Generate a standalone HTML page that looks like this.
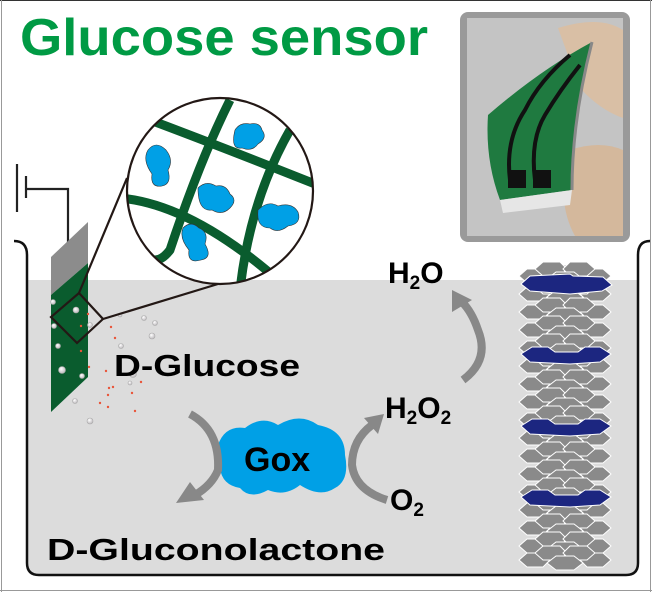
<!DOCTYPE html>
<html><head><meta charset="utf-8"><style>
html,body{margin:0;padding:0;background:#fff}
svg{display:block}
text{font-family:"Liberation Sans","DejaVu Sans",sans-serif;font-weight:bold}
</style></head><body>
<svg width="652" height="592" viewBox="0 0 652 592" xmlns="http://www.w3.org/2000/svg">
<defs>
<g id="layer">
  <polygon points="-46,0 -38,-7 -22,-7 -15,0 -22,7 -38,7" fill="#8a8a8a" stroke="#fff" stroke-width="1"/>
  <polygon points="15,0 22,-7 38,-7 46,0 38,7 22,7" fill="#8a8a8a" stroke="#fff" stroke-width="1"/>
  <polygon points="-30,-7 -22,-14 -5,-14 2,-7 -5,0 -22,0" fill="#8a8a8a" stroke="#fff" stroke-width="1"/>
  <polygon points="-2,-7 5,-14 22,-14 30,-7 22,0 5,0" fill="#8a8a8a" stroke="#fff" stroke-width="1"/>
  <polygon points="-18,3 -9,-4 9,-4 18,3 9,10 -9,10" fill="#8a8a8a" stroke="#fff" stroke-width="1"/>
</g>
<radialGradient id="ball" cx="0.4" cy="0.35" r="0.7"><stop offset="0" stop-color="#fff"/><stop offset="1" stop-color="#b8b4b8"/></radialGradient>
</defs>
<rect x="0" y="0" width="652" height="592" fill="#fff"/>
<line x1="0" y1="0.5" x2="652" y2="0.5" stroke="#333"/>
<line x1="1.5" y1="0" x2="1.5" y2="592" stroke="#999"/>
<line x1="650.5" y1="0" x2="650.5" y2="592" stroke="#999"/>
<line x1="0" y1="590.5" x2="652" y2="590.5" stroke="#999"/>

<text x="20" y="55" font-size="52" fill="#009a44" textLength="408" lengthAdjust="spacingAndGlyphs">Glucose sensor</text>

<!-- photo -->
<rect x="460" y="12" width="170" height="230" rx="8" fill="#9a9a9a"/>
<rect x="467" y="18" width="156" height="218" fill="#c4c4c4"/>
<path d="M558,28 Q600,15 623,30 L623,118 Q600,110 580,88 Z" fill="#d9bfa5"/>
<path d="M570,150 Q600,140 623,150 L623,236 L575,236 Q555,200 570,150 Z" fill="#d4b89c"/>
<path d="M488,115 Q540,70 592,42 Q572,120 572,190 L500,200 Q485,160 488,115 Z" fill="#1f7a40"/>
<path d="M500,200 L572,190 L570,205 L503,213 Z" fill="#e6e6e6"/>
<path d="M592,42 Q572,120 572,190" stroke="#888" stroke-width="3" fill="none"/>
<path d="M510,180 Q505,140 525,110 Q540,80 570,55 M535,180 Q530,140 545,115 Q560,90 580,65" stroke="#111" stroke-width="4" fill="none"/>
<rect x="508" y="170" width="18" height="18" fill="#111"/><rect x="533" y="170" width="18" height="18" fill="#111"/>

<!-- beaker liquid -->
<path d="M27,280 L638,280 L638,563 Q638,575 626,575 L39,575 Q27,575 27,563 Z" fill="#dcdcdc"/>
<path d="M14,241 Q27,241 27,255 L27,563 Q27,575 39,575 L626,575 Q638,575 638,563 L638,255 Q638,241 650,241" fill="none" stroke="#111" stroke-width="2.5"/>

<!-- ground & wire -->
<g stroke="#222" stroke-width="2.2" fill="none">
<line x1="17" y1="164" x2="17" y2="212"/>
<line x1="26" y1="176" x2="26" y2="198"/>
<polyline points="26,189 68,189 68,243"/>
</g>
<!-- electrode -->
<polygon points="51,257 88,222 88,263 51,295" fill="#8c8c8c"/>
<polygon points="51,295 88,263 88,377 51,412" fill="#0a5c2e"/>
<g fill="url(#ball)" stroke="#aaa" stroke-width="0.6">
<circle cx="53" cy="302" r="2.5"/><circle cx="76" cy="310" r="3"/><circle cx="54" cy="326" r="2.5"/><circle cx="90" cy="325" r="2.5"/>
<circle cx="58" cy="346" r="2.5"/><circle cx="62" cy="370" r="3.5"/><circle cx="82" cy="376" r="2.5"/><circle cx="75" cy="401" r="2.5"/>
<circle cx="90" cy="421" r="3"/><circle cx="144" cy="318" r="2.5"/><circle cx="155" cy="323" r="2.5"/><circle cx="152" cy="336" r="3"/>
<circle cx="121" cy="346" r="2.5"/><circle cx="133" cy="374" r="3.5"/><circle cx="130" cy="383" r="2"/><circle cx="120" cy="315" r="2"/>
</g>
<g fill="#e8553a">
<circle cx="88" cy="314" r="1.2"/><circle cx="81" cy="326" r="1.2"/><circle cx="111" cy="327" r="1.2"/><circle cx="115" cy="338" r="1.2"/>
<circle cx="81" cy="351" r="1.2"/><circle cx="89" cy="367" r="1.2"/><circle cx="106" cy="371" r="1.2"/><circle cx="141" cy="382" r="1.2"/>
<circle cx="109" cy="388" r="1.2"/><circle cx="132" cy="393" r="1.2"/><circle cx="100" cy="403" r="1.2"/><circle cx="135" cy="411" r="1.2"/>
<circle cx="108" cy="407" r="1.2"/><circle cx="108" cy="395" r="1.2"/><circle cx="113" cy="387" r="1.2"/>
</g>
<polygon points="79,293 103,319 77,343 51,317" fill="none" stroke="#231815" stroke-width="2.2"/>
<line x1="79" y1="293" x2="127" y2="178" stroke="#231815" stroke-width="2.2"/>
<line x1="103" y1="319" x2="218" y2="284" stroke="#231815" stroke-width="2.2"/>

<!-- zoom circle -->
<clipPath id="cc"><circle cx="220" cy="191" r="93"/></clipPath>
<circle cx="220" cy="191" r="93" fill="#fff"/>
<g clip-path="url(#cc)" stroke="#0a5c2e" stroke-width="9" fill="none">
<path d="M150,120 Q230,150 330,190"/>
<path d="M120,198 Q200,205 300,300"/>
<path d="M230,100 Q200,160 170,250 Q155,270 140,250"/>
<path d="M290,130 Q250,200 240,290"/>
</g>
<g fill="#00a0e6" stroke="#333" stroke-width="0.6">
<path d="M235,130 q5,-8 15,-6 q10,-2 12,6 q6,8 -4,14 q-6,8 -16,4 q-12,2 -7,-18z"/>
<path d="M148,150 q8,-10 18,0 q8,10 2,20 q4,14 -6,16 q-12,2 -10,-12 q-10,-14 -4,-24z"/>
<path d="M198,188 q8,-8 18,-2 q10,-2 14,8 q8,6 0,14 q-8,8 -18,2 q-14,2 -14,-22z"/>
<path d="M258,210 q10,-10 20,-4 q14,-4 20,6 q4,12 -10,14 q-10,8 -18,2 q-14,0 -12,-18z"/>
<path d="M183,228 q8,-8 16,0 q10,4 6,16 q8,14 -4,16 q-14,4 -12,-10 q-10,-12 -6,-22z"/>
</g>
<circle cx="220" cy="191" r="93" fill="none" stroke="#231815" stroke-width="2.2"/>

<!-- Gox -->
<path d="M218,445 Q225,425 245,428 Q262,415 278,425 Q300,412 318,425 Q345,430 345,455 Q350,480 335,488 Q320,498 300,485 Q285,497 268,490 Q250,500 240,488 Q222,485 220,468 Q210,458 218,445 Z" fill="#00a0e6"/>
<text x="244" y="471" font-size="34" fill="#000">Gox</text>

<!-- arrows -->
<g fill="none" stroke="#888" stroke-width="8">
<path d="M190,414 Q220,430 218,470 Q212,485 195,495"/>
<path d="M387,500 Q355,490 352,465 Q352,440 372,425"/>
<path d="M463,380 Q490,360 478,330 Q472,312 462,302"/>
</g>
<g fill="#888">
<polygon points="176,503 190,482 204,500"/>
<polygon points="384,414 364,418 378,434"/>
<polygon points="452,290 452,312 472,300"/>
</g>

<text x="114" y="376" font-size="31" fill="#000" textLength="186" lengthAdjust="spacingAndGlyphs">D-Glucose</text>
<text x="47" y="560" font-size="31" fill="#000" textLength="338" lengthAdjust="spacingAndGlyphs">D-Gluconolactone</text>
<text x="388" y="283" font-size="30" fill="#000">H<tspan font-size="19" dy="6">2</tspan><tspan dy="-6">O</tspan></text>
<text x="385" y="418" font-size="30" fill="#000">H<tspan font-size="19" dy="6">2</tspan><tspan dy="-6">O</tspan><tspan font-size="19" dy="6">2</tspan></text>
<text x="390" y="510" font-size="30" fill="#000">O<tspan font-size="19" dy="6">2</tspan></text>

<!-- stack -->
<g>
<rect x="553" y="265" width="24" height="300" fill="url(#ball)"/>
<use href="#layer" x="565" y="276"/>
<use href="#layer" x="565" y="294"/>
<use href="#layer" x="565" y="312"/>
<use href="#layer" x="565" y="330"/>
<use href="#layer" x="565" y="348"/>
<use href="#layer" x="565" y="366"/>
<use href="#layer" x="565" y="384"/>
<use href="#layer" x="565" y="402"/>
<use href="#layer" x="565" y="420"/>
<use href="#layer" x="565" y="438"/>
<use href="#layer" x="565" y="456"/>
<use href="#layer" x="565" y="474"/>
<use href="#layer" x="565" y="492"/>
<use href="#layer" x="565" y="510"/>
<use href="#layer" x="565" y="528"/>
<use href="#layer" x="565" y="546"/>
<use href="#layer" x="565" y="560"/>
</g>
<g fill="#1c2680" stroke="#fff" stroke-width="1">
<path d="M521,284 L530,276 L570,274 L573,276 L603,277 L612,285 L602,291 L570,294 L530,291 Z"/>
<path d="M521,354 L532,347 L548,347 L555,352 L578,352 L585,347 L600,347 L611,354 L600,362 L570,364 L530,362 Z"/>
<path d="M521,426 L532,419 L548,419 L555,424 L578,424 L585,419 L600,419 L611,426 L600,434 L570,436 L530,434 Z"/>
<path d="M521,497 L532,490 L548,490 L555,495 L578,495 L585,490 L600,490 L611,497 L600,505 L570,507 L530,505 Z"/>
</g>
</svg>
</body></html>
